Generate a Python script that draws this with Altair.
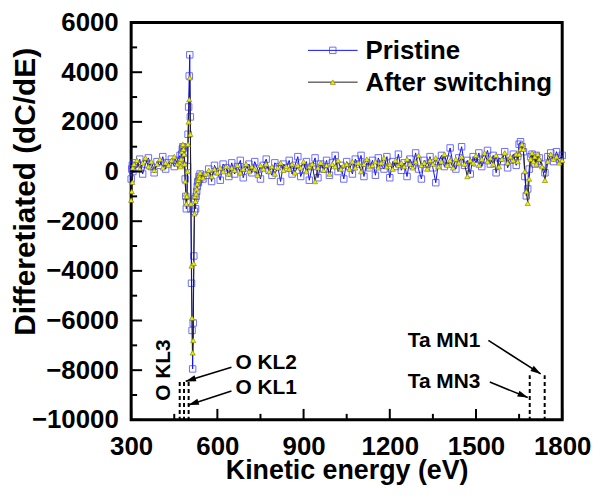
import math
import pandas as pd
import altair as alt

# ---------------- data ----------------
energy = ([300, 302, 304, 306] + list(range(310, 471, 10)) + list(range(472, 541, 2))
          + list(range(550, 1641, 10)) + list(range(1645, 1721, 5)) + list(range(1730, 1801, 10)))

pristine = [
    # 300-470
    -300, 100, 250, 0, 350, 150, 500, -100, 300, 550, 200, -50, 400, 250, 600, 100, 350, 500, 200, 450, 650,
    # 472-540 (2 eV)
    300, 450, 700, 900, 1000, 950, 800, 500, -300, -1000, -1500, -1200, 200, 1500, 2600, 3850, 4700,
    2200, -1500, -4500, -6400, -7950, -6100, -3400, -1600, -1100, -1500, -1000, -800, -600, -400, -450,
    -200, -300, -100,
    # 550-1640
    -300, -150, 100, -400, 250, 0, -350, 300, 150, -200,
    350, -100, 200, 450, -250, 150, 300, -50, 400, 100,
    -300, 250, 500, 50, -150, 350, 200, -400, 300, 150,
    450, -100, 250, 600, -200, 100, 400, -350, 200, 550,
    -250, 300, 100, 450, -150, 350, 650, 0, 250, -300,
    400, 200, -100, 500, 300, 650, -200, 350, 150, 450,
    -150, 550, 250, 100, 600, -250, 400, 200, 700, 50,
    350, -200, 500, 250, 750, 100, -300, 450, 300, 600,
    150, -450, 400, 650, 200, 500, 950, 300, 100, 550,
    1000, 250, 450, -100, 600, 350, 750, 200, 500, 850,
    300, 650, -50, 550, 400, 800, 150, 450, 700, 250,
    # 1645-1720 (5 eV)
    600, 1100, 1200, 1000, 800, -200, -980, -700, 100, 600, 700, 500, 300, 650, 400, 550,
    # 1730-1800
    300, -50, 600, 750, 400, 800, 500, 650,
]

after = [
    # 300-470
    -1150, -800, -430, 150, 300, 450, 100, 350, 550, 200, 400, 50, 300, 500, 150, 350, 250, 450, 600, 300, 400,
    # 472-540
    200, 500, 800, 1050, 1100, 900, 700, 300, -400, -900, -1300, -1000, 0, 1100, 2000, 2900, 3780,
    1500, -1300, -3800, -5900, -7300, -6800, -3700, -1700, -1000, -1200, -900, -700, -500, -300, -350,
    -150, -250, -50,
    # 550-1640
    -250, -100, 50, -200, 100, -50, 150, 0, 200, -100,
    150, 50, 250, -50, 100, 300, 0, 200, 100, -150,
    250, 100, 300, 0, 200, -100, 150, 350, 50, 200,
    100, 300, -50, 250, 150, 400, 0, 200, 300, -400,
    150, 350, 50, 250, -100, 300, 200, 450, 100, 250,
    300, 100, 400, 150, 350, 0, 300, 500, 200, 250,
    400, 150, 350, 550, 200, 300, 100, 450, 250, 350,
    200, 500, 300, 150, 400, 650, 250, 350, 100, 450,
    300, 550, 200, 400, 700, 250, 450, 150, 500, 350,
    600, 300, -200, 450, 350, 650, 250, 500, 750, 400,
    550, 300, 650, 200, 500, 750, 350, 600, 450, 700,
    # 1645-1720
    400, 700, 900, 1100, 900, 0, -800, -1280, -300, 500, 750, 400, 600, 300, 700, 500,
    # 1730-1800
    200, -350, 400, 700, 500, 600, 350, 450,
]

series_names = ["Pristine", "After switching"]

x_ticks_major = [300, 600, 900, 1200, 1500, 1800]
x_ticks_minor = [450, 750, 1050, 1350, 1650]
y_ticks_major = [-10000, -8000, -6000, -4000, -2000, 0, 2000, 4000, 6000]
y_ticks_minor = [-9000, -7000, -5000, -3000, -1000, 1000, 3000, 5000]

# reference lines (Auger transitions)
o_lines = [469, 484, 500]
o_line_top = -8480
ta_lines = [1687, 1739]
ta_line_top = -8200

ann_labels = ["O KL2", "O KL1", "Ta MN1", "Ta MN3"]
ann_text_x = [663, 663, 1515, 1515]
ann_text_y = [-7700, -8700, -6830, -8480]
ann_align = ["left", "left", "right", "right"]
arrow_tail_x = [649, 649, 1543, 1548]
arrow_tail_y = [-7880, -8840, -6800, -8480]
arrow_tip_x = [490, 500, 1725, 1680]
arrow_tip_y = [-8450, -9400, -8150, -9100]

# ---------------- layout constants ----------------
W, H = 434, 400
XD = [300, 1800]
YD = [-10000, 6000]
FONT = "Liberation Sans"
PX_X = (XD[1] - XD[0]) / W   # data units per pixel
PX_Y = (YD[1] - YD[0]) / H

xs = alt.Scale(domain=XD, nice=False, zero=False)
ys = alt.Scale(domain=YD, nice=False, zero=False)

x_axis = alt.Axis(values=x_ticks_major, format="d", ticks=False, domain=False, grid=False,
                  labelFont=FONT, labelFontSize=26, labelFontWeight="bold", labelColor="black",
                  labelPadding=14, labelFlush=False,
                  title="Kinetic energy (eV)", titleFont=FONT, titleFontSize=27, titleFontWeight="bold",
                  titleColor="black", titleBaseline="alphabetic", titleY=59)
y_axis = alt.Axis(values=y_ticks_major, format="d", ticks=False, domain=False, grid=False,
                  labelFont=FONT, labelFontSize=26, labelFontWeight="bold", labelColor="black",
                  labelPadding=13, labelFlush=False,
                  title="Differetiated (dC/dE)", titleFont=FONT, titleFontSize=30, titleFontWeight="bold",
                  titleColor="black", titleBaseline="middle", titleAlign="center",
                  titleX=-106, titleY=170, titleAngle=270)


def X(f):
    return alt.X(f, scale=xs, axis=x_axis)


def Y(f):
    return alt.Y(f, scale=ys, axis=y_axis)


df_p = pd.DataFrame({"E": energy, "v": pristine})
df_a = pd.DataFrame({"E": energy, "v": after})

line_p = alt.Chart(df_p).mark_line(color="#1010ff", strokeWidth=1).encode(x=X("E:Q"), y=Y("v:Q"))
pts_p = alt.Chart(df_p).mark_point(shape="square", size=42, color="#3030ff", strokeWidth=1,
                                   filled=False).encode(x=X("E:Q"), y=Y("v:Q"))
line_a = alt.Chart(df_a).mark_line(color="#202020", strokeWidth=1).encode(x=X("E:Q"), y=Y("v:Q"))
pts_a = alt.Chart(df_a).mark_point(shape="triangle-up", size=28, fill="#eeee00", stroke="#7a7a00",
                                   strokeWidth=0.6, filled=True, opacity=1).encode(x=X("E:Q"), y=Y("v:Q"))

TICK_COLOR = "black"


# inward ticks (drawn as short rules in data space)
def xtick(vals, length):
    d = pd.DataFrame({"E": vals, "v": [YD[0]] * len(vals), "v2": [YD[0] + length * PX_Y] * len(vals)})
    return alt.Chart(d).mark_rule(color=TICK_COLOR, strokeWidth=2).encode(x=X("E:Q"), y=Y("v:Q"), y2="v2:Q")


def ytick(vals, length):
    d = pd.DataFrame({"v": vals, "E": [XD[0]] * len(vals), "E2": [XD[0] + length * PX_X] * len(vals)})
    return alt.Chart(d).mark_rule(color=TICK_COLOR, strokeWidth=2).encode(y=Y("v:Q"), x=X("E:Q"), x2="E2:Q")


ticks = [xtick(x_ticks_major, 11), xtick(x_ticks_minor, 6), ytick(y_ticks_major, 11), ytick(y_ticks_minor, 6)]

# dashed reference lines
ref_df = pd.DataFrame({"E": o_lines + ta_lines,
                       "v": [o_line_top] * len(o_lines) + [ta_line_top] * len(ta_lines),
                       "bot": [YD[0]] * (len(o_lines) + len(ta_lines))})
ref = alt.Chart(ref_df).mark_rule(color="black", strokeWidth=2, strokeDash=[4, 3]).encode(
    x=X("E:Q"), y=Y("v:Q"), y2="bot:Q")


# arrows
def to_px(e, v):
    return (e - XD[0]) / PX_X, (YD[1] - v) / PX_Y


def to_data(px, py):
    return XD[0] + px * PX_X, YD[1] - py * PX_Y


heads = {"E": [], "v": [], "ang": []}
for tx, ty, hx, hy in zip(arrow_tail_x, arrow_tail_y, arrow_tip_x, arrow_tip_y):
    x0, y0 = to_px(tx, ty)
    x1, y1 = to_px(hx, hy)
    dx, dy = x1 - x0, y1 - y0
    d = math.hypot(dx, dy)
    cx, cy = x1 - 5 * dx / d, y1 - 5 * dy / d
    e, v = to_data(cx, cy)
    heads["E"].append(e)
    heads["v"].append(v)
    heads["ang"].append(math.degrees(math.atan2(dy, dx)) % 360)

arrow_df = pd.DataFrame({"E": arrow_tail_x, "v": arrow_tail_y, "x1": arrow_tip_x, "y1": arrow_tip_y})
arrow_lines = alt.Chart(arrow_df).mark_rule(color="black", strokeWidth=1.6).encode(
    x=X("E:Q"), y=Y("v:Q"), x2="x1:Q", y2="y1:Q")
head_df = pd.DataFrame(heads)
arrow_heads = alt.Chart(head_df).mark_point(
    shape="M1,0L-1,-0.6L-1,0.6Z", size=110, filled=True, color="black", opacity=1, strokeWidth=0).encode(
    x=X("E:Q"), y=Y("v:Q"), angle=alt.Angle("ang:Q", scale=None))

ann_df = pd.DataFrame({"E": ann_text_x, "v": ann_text_y, "t": ann_labels, "al": ann_align})
ann_left = alt.Chart(ann_df[ann_df.al == "left"]).mark_text(
    font=FONT, fontSize=21, fontWeight="bold", align="left", baseline="middle", color="black").encode(
    x=X("E:Q"), y=Y("v:Q"), text="t:N")
ann_right = alt.Chart(ann_df[ann_df.al == "right"]).mark_text(
    font=FONT, fontSize=21, fontWeight="bold", align="right", baseline="middle", color="black").encode(
    x=X("E:Q"), y=Y("v:Q"), text="t:N")
kl3 = alt.Chart(pd.DataFrame({"E": [414], "v": [-8000], "t": ["O KL3"]})).mark_text(
    font=FONT, fontSize=21, fontWeight="bold", align="center", baseline="middle", angle=270,
    color="black").encode(x=X("E:Q"), y=Y("v:Q"), text="t:N")

# legend (manual)
leg = []
for i, name in enumerate(series_names):
    yy = 28 + 32 * i
    one = alt.Chart(pd.DataFrame({"t": [name]}))
    lc = "#1010ff" if i == 0 else "#202020"
    leg.append(one.mark_rule(color=lc, strokeWidth=1).encode(
        x=alt.value(178), x2=alt.value(228), y=alt.value(yy)))
    if i == 0:
        leg.append(one.mark_point(shape="square", size=42, color="#3030ff", strokeWidth=1,
                                  filled=False).encode(x=alt.value(203), y=alt.value(yy)))
    else:
        leg.append(one.mark_point(shape="triangle-up", size=28, fill="#eeee00", stroke="#7a7a00",
                                  strokeWidth=0.6, filled=True, opacity=1).encode(
            x=alt.value(203), y=alt.value(yy)))
    leg.append(one.mark_text(font=FONT, fontSize=26, fontWeight="bold", align="left",
                             baseline="alphabetic", color="black").encode(
        x=alt.value(236), y=alt.value(yy + 9), text="t:N"))

chart = alt.layer(line_p, pts_p, line_a, pts_a, ref, arrow_lines, arrow_heads,
                  ann_left, ann_right, kl3, *ticks, *leg).properties(
    width=W, height=H,
    padding={"left": 124, "top": 13, "right": 30, "bottom": 71},
    autosize=alt.AutoSizeParams(type="none"),
    background="white",
).configure_view(stroke="black", strokeWidth=3)

chart.save("out.html", embed_options={"renderer": "svg", "actions": False})
